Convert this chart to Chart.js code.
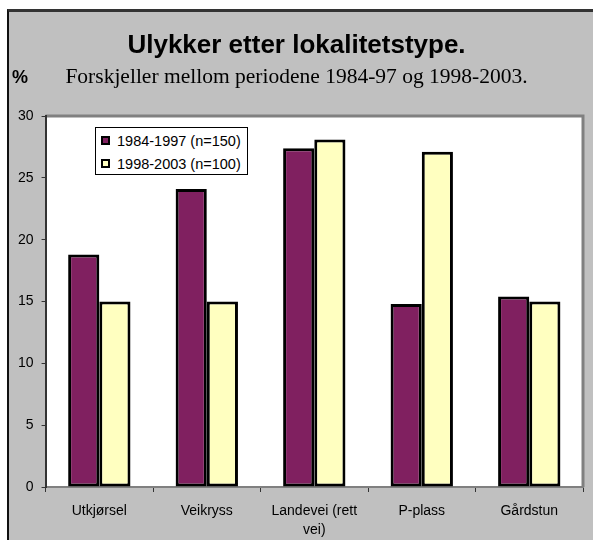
<!DOCTYPE html>
<html>
<head>
<meta charset="utf-8">
<script src="https://cdn.jsdelivr.net/npm/chart.js@4"></script>
<style>
  html, body { margin: 0; padding: 0; background: #fff; }
  #frame {
    position: absolute; left: 7px; top: 9px; width: 600px; height: 600px;
    background: #c0c0c0; border-left: 2px solid #111; border-top: 3px solid #333;
  }
  #wrap { position: absolute; left: 0; top: 0; width: 593px; height: 540px; }
  #legend {
    position: absolute; left: 95px; top: 127px; width: 151px; height: 46px;
    background: #fff; border: 1px solid #000;
    font: 14.5px "Liberation Sans", Arial, sans-serif; color: #000;
  }
  #legend div { position: absolute; left: 5px; height: 18px; line-height: 18px; white-space: nowrap; }
  #legend span.sw {
    display: inline-block; width: 5px; height: 5px; border: 2px solid #000;
    margin-right: 7px; vertical-align: 1px;
  }
</style>
</head>
<body>
<div id="frame"></div>
<div id="wrap"><canvas id="myChart" width="593" height="540"></canvas></div>
<div id="legend"></div>
<script>
const categories = ['Utkjørsel', 'Veikryss', ['Landevei (rett', 'vei)'], 'P-plass', 'Gårdstun'];
const seriesNames = ['1984-1997 (n=150)', '1998-2003 (n=100)'];
const values8497 = [18.8, 24.1, 27.4, 14.8, 15.4];
const values9803 = [15.0, 15.0, 28.1, 27.1, 15.0];
const yTicks = [0, 5, 10, 15, 20, 25, 30];
const colors = ['#802060', '#ffffc0'];

// white plot area with the grey frame on top and right
const plotArea = {
  id: 'plotArea',
  beforeDraw(chart) {
    const { ctx, chartArea: a } = chart;
    ctx.save();
    ctx.fillStyle = '#fff';
    ctx.fillRect(a.left, a.top, a.right - a.left, a.bottom - a.top);
    ctx.strokeStyle = '#808080';
    ctx.lineWidth = 3;
    ctx.beginPath();
    ctx.moveTo(a.left, a.top);
    ctx.lineTo(a.right, a.top);
    ctx.lineTo(a.right, a.bottom);
    ctx.stroke();
    ctx.restore();
  },
  afterDraw(chart) {
    const { ctx } = chart;
    ctx.save();
    ctx.fillStyle = '#000';
    ctx.font = 'bold 18px "Liberation Sans", Arial, sans-serif';
    ctx.textBaseline = 'middle';
    ctx.fillText('%', 12, 78);
    ctx.restore();
  }
};

const ctx = document.getElementById('myChart').getContext('2d');
const myChart = new Chart(ctx, {
  type: 'bar',
  data: {
    labels: categories,
    datasets: [{
      label: seriesNames[0],
      data: values8497,
      backgroundColor: colors[0],
      borderColor: '#000',
      borderWidth: 3,
      borderSkipped: false
    }, {
      label: seriesNames[1],
      data: values9803,
      backgroundColor: colors[1],
      borderColor: '#000',
      borderWidth: 3,
      borderSkipped: false
    }]
  },
  plugins: [plotArea],
  options: {
    responsive: false,
    animation: false,
    layout: { padding: { left: 10, right: 10, bottom: 0 } },
    datasets: { bar: { categoryPercentage: 0.58, barPercentage: 1.0 } },
    plugins: {
      legend: { display: false },
      tooltip: { enabled: false },
      title: {
        display: true,
        text: 'Ulykker etter lokalitetstype.',
        color: '#000',
        font: { family: '"Liberation Sans", Arial, sans-serif', size: 26, weight: 'bold' },
        padding: { top: 30, bottom: 3 }
      },
      subtitle: {
        display: true,
        text: 'Forskjeller mellom periodene 1984-97 og 1998-2003.',
        color: '#000',
        font: { family: '"Liberation Serif", "Times New Roman", serif', size: 21.5 },
        padding: { top: 0, bottom: 26 }
      }
    },
    scales: {
      x: {
        afterFit(scale) { scale.height = 53; },
        grid: { display: true, drawOnChartArea: false, tickLength: 5, color: '#333', offset: true },
        border: { display: true, color: '#808080', width: 2 },
        ticks: {
          color: '#000',
          padding: 9,
          maxRotation: 0,
          font: { family: '"Liberation Sans", Arial, sans-serif', size: 14, lineHeight: 1.4 }
        }
      },
      y: {
        min: 0,
        max: 30,
        afterBuildTicks(scale) { scale.ticks = yTicks.map(v => ({ value: v })); },
        grid: { display: true, drawOnChartArea: false, tickLength: 4, color: '#333' },
        border: { display: true, color: '#333', width: 2 },
        ticks: {
          color: '#000',
          padding: 8,
          font: { family: '"Liberation Sans", Arial, sans-serif', size: 14 }
        }
      }
    }
  }
});

// legend box built from the dataset labels
const legend = document.getElementById('legend');
myChart.data.datasets.forEach((ds, i) => {
  const row = document.createElement('div');
  row.style.top = (4 + i * 23) + 'px';
  row.innerHTML = '<span class="sw" style="background:' + ds.backgroundColor + '"></span>' + ds.label;
  legend.appendChild(row);
});
</script>
</body>
</html>
